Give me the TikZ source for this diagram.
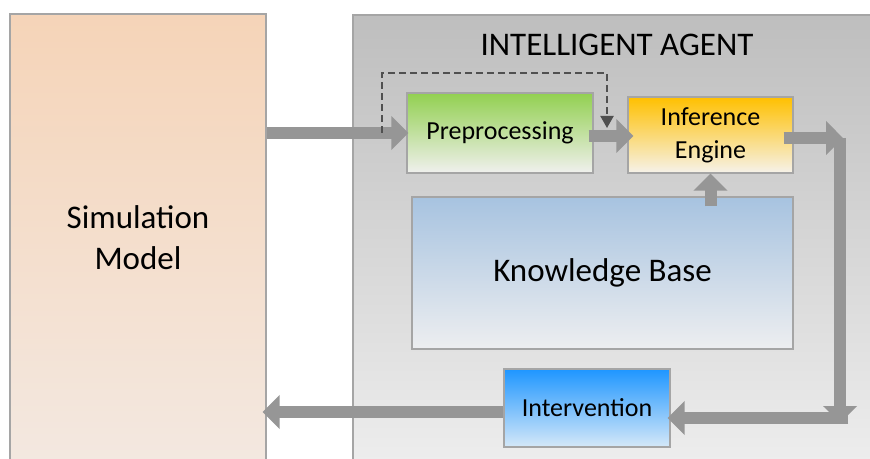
\documentclass[tikz,border=0pt]{standalone}
\usepackage{fontspec}
\setmainfont{Carlito}
\usepackage{tikz}
\usetikzlibrary{arrows.meta}
\definecolor{arrowgray}{RGB}{150,150,150}
\definecolor{edgegray}{RGB}{165,165,165}
\definecolor{dashgray}{RGB}{80,80,80}

\begin{document}
\begin{tikzpicture}[x=0.5pt,y=-0.5pt,
        box/.style={draw=edgegray,line width=0.6pt,inner sep=0pt},
        bigtext/.style={font=\fontsize{16.5}{20.5}\selectfont,align=center},
        smalltext/.style={font=\fontsize{13}{16.5}\selectfont,align=center},
        blockarrow/.style={draw=arrowgray,line width=6pt,-{Triangle[length=8.5pt,width=16.5pt]}}]
        \useasboundingbox[fill=white] (0,0) rectangle (870,459);
        \node[box,top color={rgb,255:red,245;green,212;blue,184},bottom color={rgb,255:red,243;green,232;blue,224},minimum width=128pt,minimum height=223.5pt] (sim) at (138,237.5) {};
        \node[bigtext] (simtext) at (138,237.5) {Simulation\\Model};
        \node[box,top color={rgb,255:red,190;green,190;blue,190},bottom color={rgb,255:red,237;green,237;blue,237},minimum width=261pt,minimum height=223pt] (agent) at (614,238) {};
        \node[bigtext] (title) at (617,45) {INTELLIGENT AGENT};
        \node[box,smalltext,top color={rgb,255:red,146;green,208;blue,80},bottom color={rgb,255:red,240;green,240;blue,238},minimum width=93pt,minimum height=40pt] (pre) at (500,133) {Preprocessing};
        \node[box,smalltext,top color={rgb,255:red,255;green,192;blue,0},bottom color={rgb,255:red,246;green,242;blue,234},minimum width=82.5pt,minimum height=38pt] (inf) at (710.5,135) {Inference\\Engine};
        \node[box,bigtext,top color={rgb,255:red,167;green,195;blue,224},bottom color={rgb,255:red,237;green,238;blue,240},minimum width=190.5pt,minimum height=76pt] (kb) at (602.5,273) {Knowledge Base};
        \node[box,smalltext,top color={rgb,255:red,30;green,150;blue,255},bottom color={rgb,255:red,213;green,232;blue,248},minimum width=83pt,minimum height=39pt] (int) at (587,408) {Intervention};
        \coordinate (loop) at (382,133);
        \coordinate (fb) at (607,128);
        \coordinate (ne) at (840,138);
        \coordinate (se) at (840,418);
        \draw[blockarrow] (sim.east |- pre.west) -- ([xshift=1pt]pre.west);
        \draw[dashgray,line width=1pt,dash pattern=on 3.5pt off 2pt,-{Triangle[length=6pt,width=6.5pt]}] (loop) -- (382,73) -| (fb);
        \draw[blockarrow] ([xshift=-2.5pt,yshift=-1.5pt]pre.east) -- ([xshift=3pt,yshift=-1.5pt]pre.east -| inf.west);
        \draw[blockarrow] ([yshift=-5pt]kb.north -| inf.south) -- (inf.south);
        \draw[blockarrow] (ne) -- ([yshift=-2.5pt]se);
        \draw[blockarrow] ([xshift=-5pt,yshift=-1.5pt]inf.east) -- ([xshift=1.5pt]ne);
        \draw[blockarrow] ([xshift=4pt]se) -- ([xshift=-1.5pt,yshift=-5pt]int.east);
        \draw[blockarrow] ([yshift=-2pt]int.west) -- ([xshift=-2pt,yshift=-2pt]int.west -| sim.east);
\end{tikzpicture}
\end{document}
